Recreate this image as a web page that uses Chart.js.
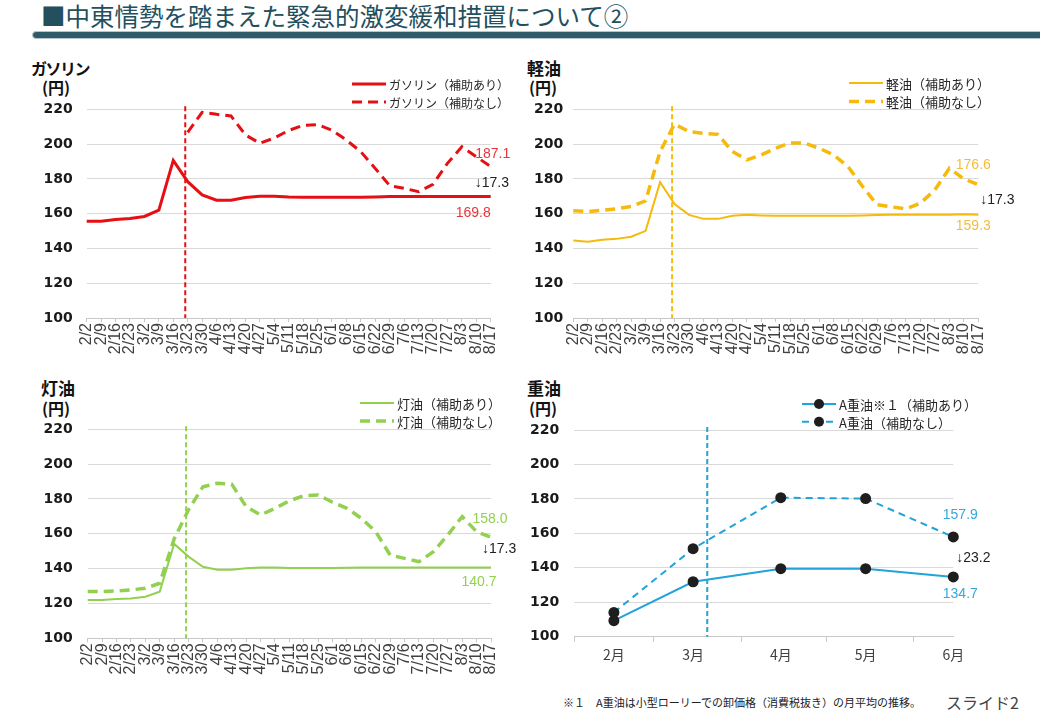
<!DOCTYPE html>
<html><head><meta charset="utf-8">
<script src="https://cdn.jsdelivr.net/npm/chart.js@4.4.1/dist/chart.umd.min.js"></script>
<style>
body{margin:0;width:1040px;height:720px;background:#fff;position:relative;overflow:hidden;font-family:"Noto Sans CJK JP",sans-serif;}
.abs{position:absolute;white-space:nowrap;}
canvas{position:absolute;}
.ct{font-weight:bold;color:#111;line-height:20px;}
</style></head><body>
<div class="abs" style="left:41px;top:1px;font-size:24.5px;line-height:30px;color:#24505e;">■中東情勢を踏まえた緊急的激変緩和措置について②</div>
<div class="abs" style="left:32px;top:31px;width:1030px;height:6px;border-radius:4px;background:#2d5b67;border:1px solid #b9c5c8;"></div>

<div class="abs ct" style="left:31px;top:58px;font-size:16px;letter-spacing:-1.5px;">ガソリン</div>
<div class="abs ct" style="left:42px;top:77px;font-size:16px;">(円)</div>
<div class="abs ct" style="left:527px;top:58px;font-size:17px;">軽油</div>
<div class="abs ct" style="left:529px;top:77px;font-size:16px;">(円)</div>
<div class="abs ct" style="left:41px;top:378px;font-size:17px;">灯油</div>
<div class="abs ct" style="left:42px;top:398px;font-size:16px;">(円)</div>
<div class="abs ct" style="left:527px;top:378px;font-size:17px;">重油</div>
<div class="abs ct" style="left:529px;top:398px;font-size:16px;">(円)</div>

<div class="abs" style="left:563px;top:694px;font-size:11px;line-height:16px;color:#222;">※１　A重油は小型ローリーでの卸価格（消費税抜き）の月平均の推移。</div>
<div class="abs" style="left:946px;top:691px;font-size:16px;line-height:22px;color:#444;">スライド2</div>

<script>
// ---------- data ----------
const weeks = ['2/2','2/9','2/16','2/23','3/2','3/9','3/16','3/23','3/30','4/6','4/13','4/20','4/27','5/4','5/11','5/18','5/25','6/1','6/8','6/15','6/22','6/29','7/6','7/13','7/20','7/27','8/3','8/10','8/17'];
const yMin = 100, yMax = 220, yStep = 20;
const weeklyMarkerIndex = 6.83; // 措置開始（3/23週の直前）

const gasWith = [155.6,155.7,156.6,157.2,158.4,162.0,190.6,178.4,170.8,167.7,167.7,169.3,170.0,170.0,169.6,169.5,169.5,169.5,169.5,169.5,169.6,169.8,169.8,169.8,169.8,169.8,169.8,169.8,169.8];
const gasWithout = [null,null,null,null,null,null,null,206.8,218.3,217.1,216.2,205.3,200.5,203.5,207.8,210.8,211.2,208.0,202.3,195.6,186.0,176.1,174.6,172.6,176.9,188.9,198.5,192.7,187.1];

const dieselWith = [144.6,143.8,145.0,145.5,146.7,150.1,178.1,165.5,159.3,157.0,157.0,158.8,159.3,159.0,158.8,158.8,158.8,158.8,158.8,158.8,159.0,159.2,159.3,159.3,159.3,159.3,159.3,159.6,159.3];
const dieselWithout = [161.6,161.2,162.0,162.8,164.1,167.4,195.7,211.5,207.2,206.2,205.6,195.7,190.9,193.8,197.6,200.7,200.5,197.6,193.8,187.0,175.6,165.1,163.9,162.8,166.0,173.7,186.1,180.0,176.6];

const keroWith = [122.0,122.0,122.6,122.8,123.9,126.8,154.2,146.9,141.1,139.4,139.4,140.2,140.6,140.6,140.4,140.4,140.4,140.4,140.5,140.6,140.7,140.7,140.7,140.7,140.7,140.7,140.7,140.7,140.7];
const keroWithout = [126.8,126.8,127.2,127.8,128.7,131.6,157.0,173.8,187.0,189.0,188.5,175.6,170.8,174.6,178.9,181.9,182.3,178.1,174.6,168.9,161.2,147.8,145.9,144.0,149.7,159.3,169.9,161.2,158.0];

const heavyMonths = ['2月','3月','4月','5月','6月'];
const heavyDates = ['2/15','3/15','4/15','5/15','6/15'];
const heavyWith = [109.3,131.9,139.5,139.5,134.7];
const heavyWithout = [114.1,151.1,180.7,180.2,157.9];
const heavyMonthStarts = ['2/1','3/1','4/1','5/1','6/1'];
const heavyAxisStart = '2/1', heavyAxisEnd = '6/15';
const heavyMarkerDate = '3/20';

// ---------- helpers ----------
function dayOf(md){const [m,d]=md.split('/').map(Number);return (Date.UTC(2026,m-1,d)-Date.UTC(2026,1,1))/86400000;}
const heavyDays = heavyDates.map(dayOf);
const heavyStartDays = heavyMonthStarts.map(dayOf);
const last = a => a[a.length-1];

const TICK_FONT = {family:'"Liberation Sans", Arial, sans-serif', size:16};
const Y_FONT = {family:'"DejaVu Sans", sans-serif', size:14, weight:'bold'};

const overlay = {
  id:'overlay',
  beforeDatasetsDraw(chart, args, o){
    if (o.marker == null) return;
    const ctx = chart.ctx, ca = chart.chartArea;
    const px = chart.scales.x.getPixelForValue(o.marker);
    ctx.save();
    ctx.strokeStyle = o.markerColor; ctx.lineWidth = o.markerWidth; ctx.setLineDash([5,3]);
    ctx.beginPath(); ctx.moveTo(px, ca.top-3); ctx.lineTo(px, ca.bottom); ctx.stroke();
    ctx.restore();
  },
  afterDraw(chart, args, o){
    const ctx = chart.ctx;
    const L = o.legend;
    chart.data.datasets.forEach((ds,i)=>{
      const y = L.y + i*L.gap;
      ctx.save();
      ctx.strokeStyle = ds.borderColor; ctx.lineWidth = ds.borderWidth;
      ctx.setLineDash(ds.borderDash || []);
      ctx.beginPath(); ctx.moveTo(L.x, y); ctx.lineTo(L.x + L.len, y); ctx.stroke();
      if (ds.pointRadius > 0){
        ctx.setLineDash([]); ctx.fillStyle = ds.pointBackgroundColor;
        ctx.beginPath(); ctx.arc(L.x + L.len/2, y, ds.pointRadius-0.5, 0, Math.PI*2); ctx.fill();
      }
      ctx.fillStyle = '#262626';
      ctx.font = L.size + 'px "Noto Sans CJK JP", sans-serif';
      ctx.textBaseline = 'middle'; ctx.textAlign = 'left';
      ctx.fillText(ds.label, L.x + L.len + 3, y+1);
      ctx.restore();
    });
    o.notes.forEach(n=>{
      const meta = chart.getDatasetMeta(n.ds);
      const pt = meta.data[meta.data.length-1];
      ctx.save();
      ctx.font = '14px "Liberation Sans", Arial, sans-serif';
      ctx.fillStyle = n.color; ctx.textAlign = n.align; ctx.textBaseline = 'middle';
      ctx.fillText(n.text, pt.x + n.dx, pt.y + n.dy);
      ctx.restore();
    });
  }
};

function build(box, area, yPad, datasets, xScale, ov, labels){
  const c = document.createElement('canvas');
  c.width = box.w; c.height = box.h;
  c.style.left = box.l + 'px'; c.style.top = box.t + 'px';
  document.body.appendChild(c);
  const toLocal = p => ({...p, x: p.x - box.l, y: p.y - box.t});
  ov.legend = toLocal(ov.legend);
  xScale.afterFit = s => { s.height = box.t + box.h - area.b; s.paddingLeft = 0; s.paddingRight = 0; s.paddingTop = 0; s.paddingBottom = 0; };
  new Chart(c, {
    type:'line',
    data:{labels, datasets},
    options:{
      responsive:false, animation:false, devicePixelRatio:1,
      layout:{padding:{left:0, top: area.t - box.t, right: box.l + box.w - area.r, bottom:0}},
      plugins:{legend:{display:false}, tooltip:{enabled:false}, overlay: ov},
      elements:{line:{tension:0}},
      scales:{
        x: xScale,
        y:{
          min:yMin, max:yMax,
          ticks:{stepSize:yStep, font:Y_FONT, color:'#1a1a1a', padding:yPad},
          grid:{color:'#d9d9d9', drawTicks:false, lineWidth:1},
          border:{display:false},
          afterFit: s => { s.width = area.l - box.l; s.paddingTop = 0; s.paddingBottom = 0; s.paddingLeft = 0; s.paddingRight = 0; }
        }
      }
    },
    plugins:[overlay]
  });
}

function weeklyX(){
  return {
    type:'category', offset:false,
    ticks:{autoSkip:false, minRotation:90, maxRotation:90, font:TICK_FONT, color:'#404040', padding:1},
    grid:{drawOnChartArea:false, drawTicks:true, tickLength:4, color:'#c8c8c8'},
    border:{color:'#c8c8c8'}
  };
}

function lineDs(label, data, color, width, dash){
  return {label, data, borderColor:color, backgroundColor:color, borderWidth:width, borderDash:dash, pointRadius:0, fill:false, spanGaps:false};
}

// ---------- ガソリン ----------
const RED = '#e60f14';
build({l:0,t:40,w:520,h:330}, {l:86.7,t:109.3,r:490.7,b:318}, 14,
  [lineDs('ガソリン（補助あり）', gasWith, RED, 3, []),
   lineDs('ガソリン（補助なし）', gasWithout, RED, 3, [10,6])],
  weeklyX(),
  {marker:weeklyMarkerIndex, markerColor:RED, markerWidth:2,
   legend:{x:352, y:84, gap:18, len:34, size:12},
   notes:[
     {ds:1, text:last(gasWithout).toFixed(1), color:'#e8373c', dx:2, dy:-12, align:'center'},
     {ds:0, text:'↓'+(last(gasWithout)-last(gasWith)).toFixed(1), color:'#222', dx:-16, dy:-13, align:'left'},
     {ds:0, text:last(gasWith).toFixed(1), color:'#e8373c', dx:0, dy:17, align:'right'}
   ]}, weeks);

// ---------- 軽油 ----------
const YEL = '#f6b90e';
build({l:500,t:40,w:540,h:330}, {l:573.3,t:109.3,r:978.3,b:318}, 10,
  [lineDs('軽油（補助あり）', dieselWith, YEL, 2, []),
   lineDs('軽油（補助なし）', dieselWithout, YEL, 3.5, [10,6])],
  weeklyX(),
  {marker:weeklyMarkerIndex, markerColor:YEL, markerWidth:2,
   legend:{x:849, y:83, gap:18.5, len:34, size:13},
   notes:[
     {ds:1, text:last(dieselWithout).toFixed(1), color:'#f4bc3c', dx:-5, dy:-20, align:'center'},
     {ds:0, text:'↓'+(last(dieselWithout)-last(dieselWith)).toFixed(1), color:'#222', dx:2, dy:-15, align:'left'},
     {ds:0, text:last(dieselWith).toFixed(1), color:'#f4bc3c', dx:-5, dy:11, align:'center'}
   ]}, weeks);

// ---------- 灯油 ----------
const GRN = '#92d050';
build({l:0,t:360,w:520,h:330}, {l:87.7,t:429.3,r:491,b:638.3}, 15,
  [lineDs('灯油（補助あり）', keroWith, GRN, 2, []),
   lineDs('灯油（補助なし）', keroWithout, GRN, 3.5, [10,6])],
  weeklyX(),
  {marker:weeklyMarkerIndex, markerColor:GRN, markerWidth:2,
   legend:{x:360, y:403, gap:18, len:34, size:13},
   notes:[
     {ds:1, text:last(keroWithout).toFixed(1), color:'#92d050', dx:-1, dy:-18, align:'center'},
     {ds:0, text:'↓'+(last(keroWithout)-last(keroWith)).toFixed(1), color:'#222', dx:-9, dy:-18, align:'left'},
     {ds:0, text:last(keroWith).toFixed(1), color:'#92d050', dx:-12, dy:15, align:'center'}
   ]}, weeks);

// ---------- 重油 ----------
const BLU = '#22a3db';
const heavyX = {
  type:'linear', min:dayOf(heavyAxisStart), max:dayOf(heavyAxisEnd),
  afterBuildTicks: s => { s.ticks = heavyStartDays.concat(heavyDays).sort((a,b)=>a-b).map(v=>({value:v})); },
  ticks:{autoSkip:false, maxRotation:0, minRotation:0, font:{family:'"Noto Sans CJK JP", sans-serif', size:14}, color:'#404040', padding:5,
    callback: v => { const i = heavyDays.indexOf(v); return i >= 0 ? heavyMonths[i] : ''; }},
  grid:{drawOnChartArea:false, drawTicks:true, tickLength:5,
    color: c => (c.tick && heavyStartDays.includes(c.tick.value)) ? '#c8c8c8' : 'rgba(0,0,0,0)'},
  border:{color:'#c8c8c8'}
};
function ptDs(label, vals, width, dash){
  return {label, data: heavyDays.map((d,i)=>({x:d, y:vals[i]})), borderColor:BLU, borderWidth:width, borderDash:dash,
    pointRadius:5.5, pointBackgroundColor:'#1e1e1e', pointBorderColor:'#1e1e1e', pointBorderWidth:0, fill:false, clip:false};
}
build({l:500,t:360,w:540,h:330}, {l:574.3,t:430,r:953.3,b:636.7}, 15,
  [ptDs('A重油※１（補助あり）', heavyWith, 2, []),
   ptDs('A重油（補助なし）', heavyWithout, 2, [7,5])],
  heavyX,
  {marker:dayOf(heavyMarkerDate), markerColor:BLU, markerWidth:2,
   legend:{x:802, y:404, gap:17.7, len:34, size:13},
   notes:[
     {ds:1, text:last(heavyWithout).toFixed(1), color:'#33a9dd', dx:7, dy:-22, align:'center'},
     {ds:0, text:'↓'+(last(heavyWithout)-last(heavyWith)).toFixed(1), color:'#222', dx:3, dy:-19, align:'left'},
     {ds:0, text:last(heavyWith).toFixed(1), color:'#33a9dd', dx:7, dy:17, align:'center'}
   ]}, null);
</script>
</body></html>
